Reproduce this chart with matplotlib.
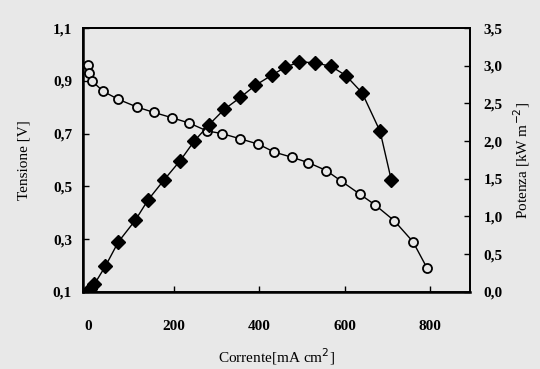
import numpy as np
import matplotlib
matplotlib.use('Agg')
import matplotlib.pyplot as plt

plt.rcParams['font.family'] = ['Liberation Serif', 'DejaVu Serif']

# dati
corrente_v = [0, 2, 8, 35, 70, 115, 154, 196, 236, 278, 313, 356, 398, 435,
              477, 515, 557, 592, 636, 671, 716, 760, 793]
tensione = [0.96, 0.93, 0.90, 0.86, 0.83, 0.80, 0.78, 0.76, 0.74, 0.71, 0.70,
            0.68, 0.66, 0.63, 0.61, 0.59, 0.56, 0.52, 0.47, 0.43, 0.37, 0.29, 0.19]

corrente_p = [0, 5, 14, 40, 70, 110, 140, 178, 215, 248, 283, 318, 356, 391,
              431, 461, 494, 531, 569, 603, 641, 683, 709]
potenza = [0.0, 0.04, 0.10, 0.34, 0.66, 0.95, 1.22, 1.49, 1.74, 2.00, 2.22,
           2.42, 2.58, 2.74, 2.88, 2.98, 3.05, 3.04, 2.99, 2.87, 2.64, 2.13, 1.49]

x_ticks = [0, 200, 400, 600, 800]
y_ticks = [0.1, 0.3, 0.5, 0.7, 0.9, 1.1]
y2_ticks = [0.0, 0.5, 1.0, 1.5, 2.0, 2.5, 3.0, 3.5]

bg = '#e8e8e8'
fig = plt.figure(figsize=(5.4, 3.69), dpi=100, facecolor=bg)
ax = fig.add_axes([0.154, 0.209, 0.716, 0.715])
ax.set_facecolor(bg)
ax2 = ax.twinx()

ax.plot(corrente_v, tensione, '-o', color='black', lw=1.0, ms=6.5,
        markerfacecolor=bg, markeredgewidth=1.3, zorder=3)
ax2.plot(corrente_p, potenza, '-D', color='black', lw=1.0, ms=7, zorder=3)

ax.set_xlim(-12, 893)
ax.set_ylim(0.1, 1.1)
ax2.set_ylim(0, 3.5)

ax.set_xticks(x_ticks)
ax.set_xticklabels([str(t) for t in x_ticks], fontsize=11, fontweight='bold')
ax.set_yticks(y_ticks)
ax.set_yticklabels([f'{t:.1f}'.replace('.', ',') for t in y_ticks], fontsize=11, fontweight='bold')
ax2.set_yticks(y2_ticks)
ax2.set_yticklabels([f'{t:.1f}'.replace('.', ',') for t in y2_ticks], fontsize=11, fontweight='bold')

ax.tick_params(axis='x', direction='in', length=4, width=1, pad=20, top=False)
ax.tick_params(axis='y', direction='in', length=4, width=1, pad=8)
ax2.tick_params(axis='y', direction='in', length=4, width=1, pad=10)

for a in (ax, ax2):
    for s in a.spines.values():
        s.set_linewidth(1.3)
ax.spines['left'].set_linewidth(1.8)
ax.spines['bottom'].set_linewidth(1.8)

ax.set_xlabel('Corrente[mA cm$^{2}$]', fontsize=11, labelpad=10)
ax.set_ylabel('Tensione [V]', fontsize=11, labelpad=16)
ax2.set_ylabel('Potenza [kW m$^{-2}$]', fontsize=11, labelpad=6)

fig.savefig('out.png', dpi=100, facecolor=bg)
